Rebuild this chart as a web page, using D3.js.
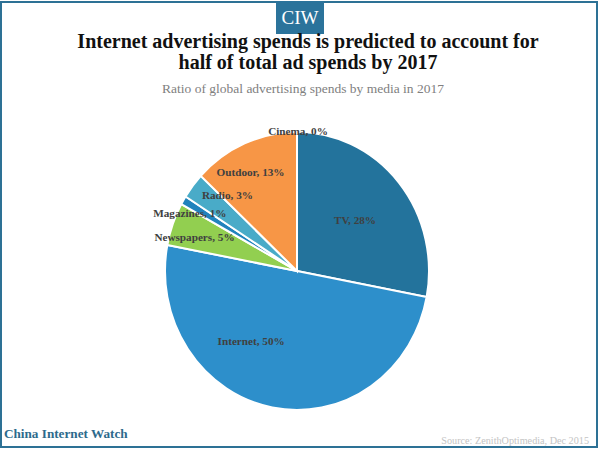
<!DOCTYPE html>
<html>
<head>
<meta charset="utf-8">
<script src="https://d3js.org/d3.v7.min.js"></script>
<style>
    html, body {margin: 0; padding: 0; background: #fff;}
    svg {display: block;}
</style>
</head>
<body>
<div id="chart"></div>
<script>
var categories = ["TV", "Internet", "Newspapers", "Magazines", "Radio", "Outdoor", "Cinema"];
var shares     = [28, 50, 5, 1, 3, 13, 0];
var colors     = ["#23739c", "#2d8fcb", "#92cf50", "#2183bd", "#49abc8", "#f79646", "#23739c"];
// nudges from each slice's centroid, the labels are not radial in the picture
var labelOffsets = [[-3, 2], [-31, -12], [-28, -6], [-39, -15], [-7, -25], [-15, -22], [1, -57]];

var width  = 600;
var height = 450;
var cx = 297;
var cy = 271;
var radius = 132;
var radiusY = 139; // the pie is slightly stretched in the reference

var svg = d3.select("#chart").append("svg")
    .attr("width", width)
    .attr("height", height);

/** FRAME **/
svg.append("rect")
    .attr("x", 1).attr("y", 2)
    .attr("width", 596).attr("height", 445)
    .attr("fill", "#fff")
    .attr("stroke", "#2d7195")
    .attr("stroke-width", 2);

svg.append("rect")
    .attr("x", 276).attr("y", 1)
    .attr("width", 48).attr("height", 33)
    .attr("fill", "#2b739b");

svg.append("text")
    .attr("x", 300).attr("y", 24)
    .attr("text-anchor", "middle")
    .attr("font-family", "Liberation Serif")
    .attr("font-size", 19)
    .attr("fill", "#fff")
    .text("CIW");

/** TITLES **/
var titleLines = ["Internet advertising spends is predicted to account for", "half of total ad spends by 2017"];
svg.selectAll(".title").data(titleLines).enter().append("text")
    .attr("class", "title")
    .attr("x", 308)
    .attr("y", function (d, i) { return 48 + i * 21; })
    .attr("text-anchor", "middle")
    .attr("font-family", "Liberation Serif")
    .attr("font-weight", "bold")
    .attr("font-size", 20)
    .attr("fill", "#111")
    .text(function (d) { return d; });

svg.append("text")
    .attr("x", 303).attr("y", 93)
    .attr("text-anchor", "middle")
    .attr("font-family", "Liberation Serif")
    .attr("font-size", 13.5)
    .attr("fill", "#808080")
    .text("Ratio of global advertising spends by media in 2017");

/** PIE **/
var pie = d3.pie().sort(null).value(function (d) { return d; });
var arc = d3.arc().innerRadius(0).outerRadius(radius);
var labelArc = d3.arc().innerRadius(radius * 0.6).outerRadius(radius * 0.6);
var slices = pie(shares);
var yStretch = radiusY / radius;

var g = svg.append("g").attr("transform", "translate(" + cx + "," + cy + ")");

g.append("g")
    .attr("transform", "scale(1," + yStretch + ")")
    .selectAll("path").data(slices).enter().append("path")
    .attr("d", arc)
    .attr("fill", function (d, i) { return colors[i]; })
    .attr("stroke", "#fff")
    .attr("stroke-width", 2)
    .attr("vector-effect", "non-scaling-stroke");

g.selectAll(".label").data(slices).enter().append("text")
    .attr("class", "label")
    .attr("transform", function (d, i) {
        var c = labelArc.centroid(d);
        return "translate(" + (c[0] + labelOffsets[i][0]) + "," + (c[1] * yStretch + labelOffsets[i][1]) + ")";
    })
    .attr("dy", "0.35em")
    .attr("text-anchor", "middle")
    .attr("font-family", "Liberation Serif")
    .attr("font-weight", "bold")
    .attr("font-size", 11.2)
    .attr("fill", "#404040")
    .text(function (d, i) { return categories[i] + ", " + d.value + "%"; });

/** FOOTER **/
svg.append("text")
    .attr("x", 4).attr("y", 438)
    .attr("font-family", "Liberation Serif")
    .attr("font-weight", "bold")
    .attr("font-size", 13.2)
    .attr("fill", "#2d6a8c")
    .text("China Internet Watch");

svg.append("text")
    .attr("x", 589).attr("y", 444)
    .attr("text-anchor", "end")
    .attr("font-family", "Liberation Serif")
    .attr("font-size", 10.2)
    .attr("fill", "#c4c4c4")
    .text("Source: ZenithOptimedia, Dec 2015");
</script>
</body>
</html>
